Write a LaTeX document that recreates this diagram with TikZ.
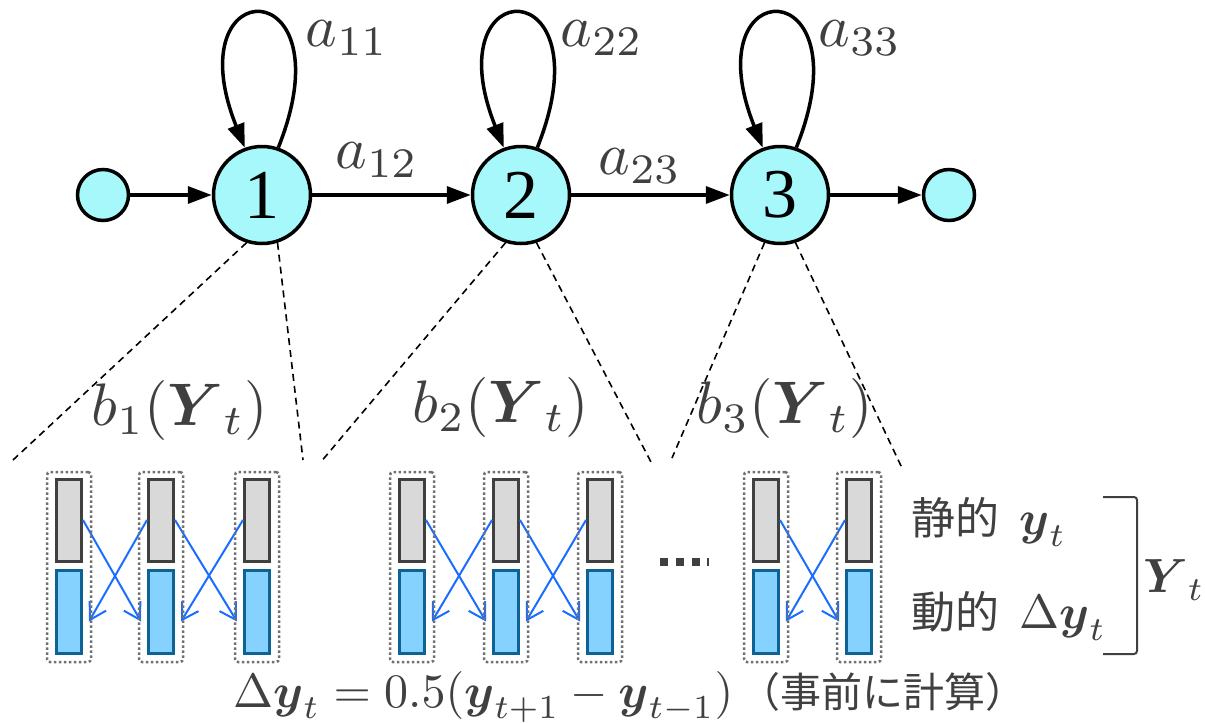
\documentclass[tikz,border=0pt]{standalone}
\usepackage{amsmath}
\usepackage{fontspec}
\newfontfamily\jpfont{Noto Sans CJK JP}
\newfontfamily\numfont{Liberation Serif}
\usetikzlibrary{arrows.meta}

\definecolor{nodecyan}{HTML}{A6F8FA}
\definecolor{txtgray}{HTML}{404040}
\definecolor{stfill}{HTML}{D9D9D9}
\definecolor{dyfill}{HTML}{85D1FF}
\definecolor{dyedge}{HTML}{0E6294}
\definecolor{flowblue}{HTML}{1A6EFF}
\definecolor{frgray}{HTML}{707070}

\newcommand{\mth}[2]{\scalebox{#1}{\normalsize$#2$}}

\tikzset{
	state/.style={circle, draw, line width=3.5pt, fill=nodecyan, minimum size=97pt, inner sep=0pt, font=\numfont\fontsize{70}{70}\selectfont},
	term/.style={circle, draw, line width=3.5pt, fill=nodecyan, minimum size=51pt, inner sep=0pt},
	arr/.style={line width=3.5pt, -{Triangle[length=24pt,width=17pt]}},
	guide/.style={line width=1.6pt, dash pattern=on 7pt off 5pt},
	lbl/.style={text=txtgray, inner sep=0pt},
	stbar/.style={draw=txtgray, fill=stfill, line width=3pt, minimum width=25pt, minimum height=82pt, inner sep=0pt},
	dybar/.style={draw=dyedge, fill=dyfill, line width=3pt, minimum width=25pt, minimum height=83pt, inner sep=0pt},
	frame/.style={draw=frgray, line width=2.5pt, dash pattern=on 2.5pt off 2.5pt, rounded corners=3pt, minimum width=44pt, minimum height=190pt, inner sep=0pt},
	dyarr/.style={flowblue, line width=2pt, -{Straight Barb[length=16pt,width=19pt]}}
}

\begin{document}
\begin{tikzpicture}[x=1pt,y=-1pt]
		\useasboundingbox (0,0) rectangle (1205,723);

		\node[term] (s0) at (103,195) {};
		\node[state] (n1) at (262,195) {1};
		\node[state] (n2) at (521,195) {2};
		\node[state] (n3) at (780,195) {3};
		\node[term] (e0) at (949,195) {};

		\draw[arr] (s0) -- (n1);
		\draw[arr] (n1) -- (n2);
		\draw[arr] (n2) -- (n3);
		\draw[arr] (n3) -- (e0);
		\foreach \n in {n1,n2,n3} {\draw[arr] (\n.71) .. controls +(71,-178) and +(-71,-178) .. (\n.110);}

		\node[lbl] (a11) at (347,38) {\mth{6}{a_{11}}};
		\node[lbl] (a22) at (602,38) {\mth{6}{a_{22}}};
		\node[lbl] (a33) at (860,38) {\mth{6}{a_{33}}};
		\node[lbl] (a12) at (377,160) {\mth{6}{a_{12}}};
		\node[lbl] (a23) at (640,166) {\mth{6}{a_{23}}};

		\coordinate (c1l) at (13,460);
		\coordinate (c1r) at (303,460);
		\coordinate (c2l) at (320,463);
		\coordinate (c2r) at (651,462);
		\coordinate (c3l) at (672,458);
		\coordinate (c3r) at (902,468);
		\draw[guide] (n1.252) -- (c1l);
		\draw[guide] (n1.288) -- (c1r);
		\draw[guide] (n2.252) -- (c2l);
		\draw[guide] (n2.288) -- (c2r);
		\draw[guide] (n3.252) -- (c3l);
		\draw[guide] (n3.288) -- (c3r);

		\node[lbl] (b1) at (180,410) {\mth{6}{b_1(\boldsymbol{Y}_t)}};
		\node[lbl] (b2) at (501,407) {\mth{6}{b_2(\boldsymbol{Y}_t)}};
		\node[lbl] (b3) at (785,408) {\mth{6}{b_3(\boldsymbol{Y}_t)}};

		\foreach \x [count=\i] in {69,161,257,412,506,600,766,859} {
			\node[stbar] (st\i) at (\x,520) {};
			\node[dybar] (dy\i) at (\x,611.5) {};
		}
		\foreach \l/\r in {1/2,2/3,4/5,5/6,7/8} {
			\draw[dyarr] (st\l.east) -- ([xshift=-6pt,yshift=-10pt]dy\r.west);
			\draw[dyarr] (st\r.west) -- ([xshift=6pt,yshift=-10pt]dy\l.east);
		}
		\foreach \x [count=\i] in {69,161,257,412,506,600,766,859} {\node[frame] (fr\i) at (\x,567) {};}

		\foreach \x in {660,676,692} {\fill[txtgray] (\x,558) rectangle (\x+8,566);}
		\fill[txtgray] (707,558) rectangle (709,566);

		\node[lbl, anchor=west] (sty) at (911,522) {{\jpfont\fontsize{44}{50}\selectfont 静的}\hspace{20pt}\mth{4.8}{\boldsymbol{y}_t}};
		\node[lbl, anchor=west] (dyy) at (911,616) {{\jpfont\fontsize{44}{50}\selectfont 動的}\hspace{20pt}\mth{4.8}{\Delta\boldsymbol{y}_t}};
		\draw[txtgray, line width=2pt, rounded corners=3pt] (1103,497) -- (1137,497) -- (1137,654) -- (1103,654);
		\node[lbl] (Yt) at (1174,580) {\mth{4.8}{\boldsymbol{Y}_t}};

		\node[lbl, anchor=base west] (eq) at (233,707) {\mth{4.8}{\Delta\boldsymbol{y}_t = 0.5(\boldsymbol{y}_{t+1} - \boldsymbol{y}_{t-1})}\hspace{6pt}{\jpfont\fontsize{41}{48}\selectfont （事前に計算）}};
    \end{tikzpicture}
\end{document}
